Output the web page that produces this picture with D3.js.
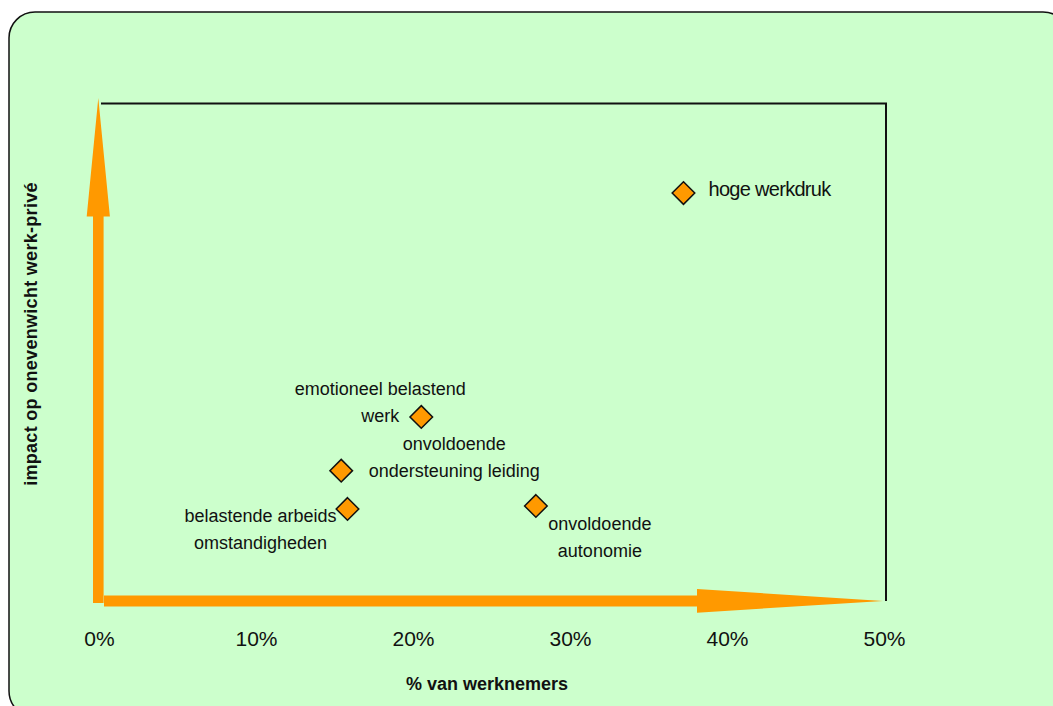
<!DOCTYPE html>
<html lang="nl">
<head>
  <meta charset="UTF-8">
  <title>Impact op onevenwicht werk-privé</title>
  <style>
    body {
      margin: 0;
      background-color: white;
      overflow: hidden;
    }

    text {
      font-family: "Liberation Sans", Arial, sans-serif;
      fill: #111;
    }

    .tick-label {
      font-size: 21px;
    }

    .point-label {
      font-size: 18px;
    }

    .axis-title {
      font-size: 18px;
      font-weight: bold;
    }
  </style>
</head>
<body>
  <script src="https://d3js.org/d3.v7.min.js"></script>
  <script>
    const width = 1053;
    const height = 706;

    // data
    const names = [
      "hoge werkdruk",
      "emotioneel belastend werk",
      "onvoldoende ondersteuning leiding",
      "belastende arbeidsomstandigheden",
      "onvoldoende autonomie"
    ];
    const pctEmployees = [37.1, 20.4, 15.3, 15.7, 27.7];   // x, %
    const impact = [0.82, 0.37, 0.262, 0.185, 0.191];      // y, no scale shown
    const xTicks = [0, 10, 20, 30, 40, 50];

    // how each label is split and placed next to its marker
    const labelLines = [
      ["hoge werkdruk"],
      ["emotioneel belastend", "werk"],
      ["onvoldoende", "ondersteuning leiding"],
      ["belastende arbeids", "omstandigheden"],
      ["onvoldoende", "autonomie"]
    ];
    const labelLayout = [
      { dx: 25, dy: 3, anchor: "start" },
      { dx: -41, dy: -22, anchor: "middle" },
      { dx: 113, dy: -21, anchor: "middle" },
      { dx: -87, dy: 13, anchor: "middle" },
      { dx: 64, dy: 24, anchor: "middle" }
    ];

    const margin = { top: 103.5, right: 167, bottom: 105, left: 101 };

    const svg = d3.select("body").append("svg")
      .attr("width", width)
      .attr("height", height);

    // green panel with rounded corners, runs off the right and bottom edge
    svg.append("rect")
      .attr("x", 9)
      .attr("y", 12)
      .attr("width", 1060)
      .attr("height", 705)
      .attr("rx", 26)
      .attr("fill", "#ccffcc")
      .attr("stroke", "#111")
      .attr("stroke-width", 1.5);

    const x = d3.scaleLinear()
      .domain([0, 50])
      .range([margin.left, width - margin.right]);

    const y = d3.scaleLinear()
      .domain([0, 1])
      .range([height - margin.bottom, margin.top]);

    const x0 = x(0), x1 = x(50), y0 = y(0), y1 = y(1);

    // plot frame: top and right side only
    svg.append("path")
      .attr("d", `M${x0},${y1}H${x1}V${y0}`)
      .attr("fill", "none")
      .attr("stroke", "#111")
      .attr("stroke-width", 2);

    // orange axis arrows
    const orange = "#ff9900";
    const ax = x0 - 2.7;   // vertical arrow centre
    svg.append("path")
      .attr("d", `M${ax - 5.3},${y0 + 2}V${y1 + 113}H${ax - 11.6}L${ax},${y1 - 5.5}L${ax + 11.6},${y1 + 113}H${ax + 5.3}V${y0 + 2}Z`)
      .attr("fill", orange);

    const ay = y0;         // horizontal arrow centre
    svg.append("path")
      .attr("d", `M${x0 + 3},${ay - 5.4}H${x0 + 596}V${ay - 12}L${x1 - 3},${ay}L${x0 + 596},${ay + 11.7}V${ay + 5.6}H${x0 + 3}Z`)
      .attr("fill", orange);

    // x tick labels
    svg.append("g")
      .selectAll("text")
      .data(xTicks)
      .enter()
      .append("text")
      .attr("class", "tick-label")
      .attr("x", d => x(d) - 1.5)
      .attr("y", 646)
      .attr("text-anchor", "middle")
      .text(d => d + "%");

    // axis titles
    svg.append("text")
      .attr("class", "axis-title")
      .attr("x", 487)
      .attr("y", 690)
      .attr("text-anchor", "middle")
      .text("% van werknemers");

    svg.append("text")
      .attr("class", "axis-title")
      .attr("transform", "translate(37,334) rotate(-90)")
      .attr("text-anchor", "middle")
      .style("letter-spacing", "0.3px")
      .text("impact op onevenwicht werk-privé");

    // markers
    const points = names.map((n, i) => ({
      name: n,
      cx: x(pctEmployees[i]),
      cy: y(impact[i]),
      lines: labelLines[i],
      layout: labelLayout[i]
    }));

    const r = 11.3;
    svg.append("g")
      .selectAll("path")
      .data(points)
      .enter()
      .append("path")
      .attr("d", d => `M${d.cx},${d.cy - r}L${d.cx + r},${d.cy}L${d.cx},${d.cy + r}L${d.cx - r},${d.cy}Z`)
      .attr("fill", orange)
      .attr("stroke", "#111")
      .attr("stroke-width", 1.5);

    // labels
    const labels = svg.append("g")
      .selectAll("text")
      .data(points)
      .enter()
      .append("text")
      .attr("class", "point-label")
      .attr("text-anchor", d => d.layout.anchor)
      .style("font-size", (d, i) => i === 0 ? "20px" : null)
      .style("letter-spacing", (d, i) => i === 0 ? "-0.7px" : null);

    labels.selectAll("tspan")
      .data(d => d.lines.map((t, k) => ({ t, k, d })))
      .enter()
      .append("tspan")
      .attr("x", e => e.d.cx + e.d.layout.dx)
      .attr("y", e => e.d.cy + e.d.layout.dy + e.k * 27.5)
      .text(e => e.t);
  </script>
</body>
</html>
